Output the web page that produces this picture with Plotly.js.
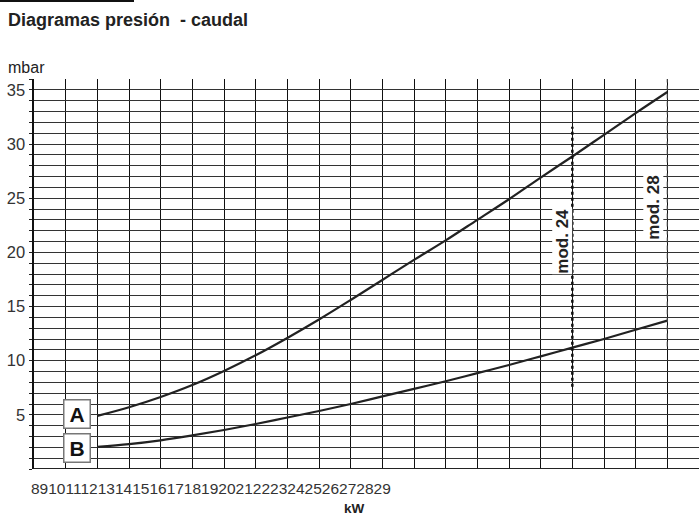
<!DOCTYPE html>
<html>
<head>
<meta charset="utf-8">
<script src="https://cdn.plot.ly/plotly-3.0.1.min.js"></script>
<style>
  html, body { margin: 0; padding: 0; background: #fff; }
  #chart { width: 699px; height: 515px; }
</style>
</head>
<body>
<div id="chart"></div>
<script>
// kW on the x axis, mbar on the y axis
const kwTicks = [8,9,10,11,12,13,14,15,16,17,18,19,20,21,22,23,24,25,26,27,28,29]
const mbarTicks = [0,1,2,3,4,5,6,7,8,9,10,11,12,13,14,15,16,17,18,19,20,21,22,23,24,25,26,27,28,29,30,31,32,33,34,35,36]

const curveX = [10,11,12,13,14,15,16,17,18,19,20,21,22,23,24,25,26,27,28]
const curveA = [4.9,5.7,6.65,7.75,9.05,10.5,12.1,13.8,15.6,17.45,19.3,21.1,23.0,24.9,26.9,28.85,30.85,32.85,34.8]
const curveB = [2.05,2.3,2.65,3.1,3.6,4.15,4.75,5.35,6.0,6.7,7.4,8.1,8.85,9.6,10.4,11.2,12.0,12.85,13.7]

const mod24 = {x: [25,25], y: [7.6,31.6]}
const mod28 = {x: [28,28], y: [11.3,36]}

const ink = '#222'
const sans = 'Liberation Sans, Arial, sans-serif'

let traces = [
  {x: curveX, y: curveA, mode: 'lines', line: {color: ink, width: 2.2, shape: 'spline'}},
  {x: curveX, y: curveB, mode: 'lines', line: {color: ink, width: 2.2, shape: 'spline'}},
  {x: mod24.x, y: mod24.y, mode: 'lines', line: {color: '#111', width: 2.5, dash: 'dot'}},
  {x: mod28.x, y: mod28.y, mode: 'lines', line: {color: '#444', width: 1.2, dash: '5px,3px'}},
]

let layout = {
  width: 699,
  height: 515,
  margin: {l: 34, r: 0, t: 79, b: 46},
  paper_bgcolor: '#fff',
  plot_bgcolor: '#fff',
  showlegend: false,
  xaxis: {
    range: [8, 29],
    tickvals: kwTicks,
    showticklabels: false,
    showgrid: true,
    gridcolor: '#111',
    gridwidth: 1,
    zeroline: false,
    showline: false,
    fixedrange: true,
  },
  yaxis: {
    range: [0, 36],
    tickvals: mbarTicks,
    ticktext: mbarTicks.map(v => (v > 0 && v % 5 === 0) ? String(v) : ''),
    ticks: 'outside',
    ticklen: 3,
    tickcolor: '#222',
    tickfont: {family: sans, size: 16.5, color: '#333'},
    showgrid: true,
    gridcolor: '#333',
    gridwidth: 1,
    zeroline: false,
    showline: true,
    linecolor: '#111',
    linewidth: 2.5,
    fixedrange: true,
  },
  shapes: [
    // stub of the rule above the heading
    {type: 'line', xref: 'paper', yref: 'paper', x0: -34/665, x1: 100/665, y0: 1 + 78/390, y1: 1 + 78/390,
     line: {color: '#111', width: 2}},
    // bottom axis
    {type: 'line', xref: 'paper', yref: 'y', x0: 0, x1: 1, y0: 0, y1: 0, line: {color: '#222', width: 2}},
  ],
  annotations: [
    {xref: 'paper', yref: 'paper', x: -28/665, y: 1 + 59/390, xanchor: 'left', yanchor: 'middle',
     text: '<b>Diagramas presión  - caudal</b>', showarrow: false,
     font: {family: sans, size: 18, color: '#222'}},
    {xref: 'paper', yref: 'paper', x: -28/665, y: 1 + 12/390, xanchor: 'left', yanchor: 'middle',
     text: 'mbar', showarrow: false,
     font: {family: sans, size: 16, color: '#222'}},
    {xref: 'paper', yref: 'paper', x: -5/665, y: -19.5/390, xanchor: 'left', yanchor: 'middle',
     text: kwTicks.join(''), showarrow: false,
     font: {family: sans, size: 15.5, color: '#333'}},
    {xref: 'paper', yref: 'paper', x: 320/665, y: -39/390, xanchor: 'center', yanchor: 'middle',
     text: '<b>kW</b>', showarrow: false,
     font: {family: sans, size: 13.5, color: '#222'}},
    {x: 9.36, y: 5.1, text: '<b>A</b>', showarrow: false, width: 23, height: 25,
     bgcolor: '#fff', bordercolor: '#777', borderwidth: 1.5, borderpad: 1,
     font: {family: sans, size: 21, color: '#111'}},
    {x: 9.36, y: 1.9, text: '<b>B</b>', showarrow: false, width: 23, height: 25,
     bgcolor: '#fff', bordercolor: '#777', borderwidth: 1.5, borderpad: 1,
     font: {family: sans, size: 21, color: '#111'}},
    {x: 24.68, y: 21.0, text: '<b>mod. 24</b>', textangle: -90, showarrow: false,
     bgcolor: '#fff', borderpad: 0,
     font: {family: sans, size: 17, color: '#222'}},
    {x: 27.57, y: 24.1, text: '<b>mod. 28</b>', textangle: -90, showarrow: false,
     bgcolor: '#fff', borderpad: 0,
     font: {family: sans, size: 17, color: '#222'}},
  ],
}

Plotly.newPlot('chart', traces, layout, {displayModeBar: false, staticPlot: true})
</script>
</body>
</html>
